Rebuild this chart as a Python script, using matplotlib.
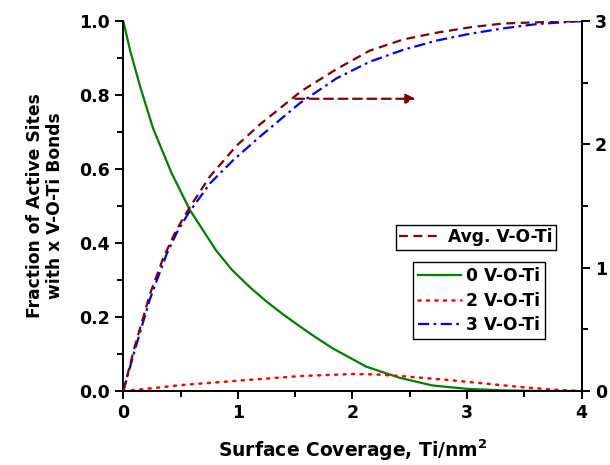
import numpy as np
import matplotlib
matplotlib.use('Agg')
from matplotlib import pyplot as plt
from matplotlib.lines import Line2D

plt.rcParams['font.family'] = ['DejaVu Sans']
plt.rcParams['font.weight'] = 'bold'

# values
x_zero = [0, 0.06, 0.15, 0.26, 0.42, 0.58, 0.81, 0.95, 1.10, 1.25, 1.40,
          1.54, 1.67, 1.83, 2.12, 2.41, 2.70, 3.00, 3.30, 3.60, 4.0]
y_zero = [1.0, 0.92, 0.82, 0.71, 0.59, 0.49, 0.38, 0.327, 0.282, 0.242,
          0.206, 0.175, 0.147, 0.115, 0.066, 0.036, 0.015, 0.006, 0.002,
          0.0005, 0.0]

x_two = [0, 0.234, 0.5, 0.81, 1.0, 1.54, 2.0, 2.2, 2.4, 2.6, 2.8, 3.0, 3.3,
         3.5, 3.8, 4.0]
y_two = [0, 0.007, 0.016, 0.0235, 0.028, 0.0405, 0.046, 0.045, 0.041, 0.036,
         0.031, 0.025, 0.016, 0.010, 0.003, 0.0]

x_three = [0, 0.1, 0.234, 0.378, 0.47, 0.567, 0.756, 0.959, 1.19, 1.54, 1.86,
           2.15, 2.44, 2.73, 3.03, 3.31, 3.61, 4.0]
y_three = [0, 0.11, 0.25, 0.37, 0.43, 0.48, 0.561, 0.624, 0.687, 0.778,
           0.845, 0.89, 0.922, 0.947, 0.966, 0.98, 0.992, 1.0]

x_avg = [0, 0.1, 0.234, 0.349, 0.46, 0.58, 0.756, 0.989, 1.19, 1.55, 1.86,
         2.15, 2.44, 2.73, 3.03, 3.31, 3.61, 4.0]
y_avg = [0, 0.36, 0.79, 1.08, 1.30, 1.49, 1.74, 1.99, 2.16, 2.43, 2.61,
         2.76, 2.85, 2.905, 2.95, 2.98, 2.99, 3.0]

green = '#008000'
red = '#ff0000'
blue = '#0000ff'
maroon = '#800000'

fig = plt.figure(figsize=(6.1, 4.65), dpi=100)
ax = fig.add_axes([0.2021, 0.159, 0.7515, 0.7957])
ax2 = ax.twinx()

ax.plot(x_zero, y_zero, color=green, lw=1.6, ls='-')
ax.plot(x_two, y_two, color=red, lw=1.8, ls=(0, (0.8, 2.6)),
        dash_capstyle='round')
ax.plot(x_three, y_three, color=blue, lw=1.6, ls=(0, (5, 2, 1.2, 2)))
ax2.plot(x_avg, y_avg, color=maroon, lw=1.6, ls=(0, (4, 2.5)))

ax2.annotate('', xy=(2.55, 2.37), xytext=(1.5, 2.37),
             arrowprops=dict(arrowstyle='-|>', color=maroon, lw=1.6,
                             ls=(0, (4, 2.5)), mutation_scale=14,
                             shrinkA=0, shrinkB=0))

ax.set_xlim(0, 4)
ax.set_ylim(0, 1.0)
ax2.set_ylim(0, 3)
ax.set_xticks([0, 1, 2, 3, 4])
ax.set_xticks(np.arange(0.5, 4, 1), minor=True)
ax.set_yticks([0, 0.2, 0.4, 0.6, 0.8, 1.0])
ax.set_yticklabels(['0.0', '0.2', '0.4', '0.6', '0.8', '1.0'])
ax.set_yticks(np.arange(0.1, 1.0, 0.2), minor=True)
ax2.set_yticks([0, 1, 2, 3])
ax2.set_yticks([0.5, 1.5, 2.5], minor=True)

for a in (ax, ax2):
    a.spines['top'].set_visible(False)
    for s in a.spines.values():
        s.set_linewidth(1.4)
    a.tick_params(which='major', direction='out', length=6, width=1.4,
                  labelsize=12.5)
    a.tick_params(which='minor', direction='out', length=4, width=1.4)
ax2.spines['left'].set_visible(False)
ax2.spines['bottom'].set_visible(False)

ax.set_xlabel('Surface Coverage, Ti/nm$^\\mathbf{2}$', fontsize=13.5,
              fontweight='bold', labelpad=11)
ax.set_ylabel('Fraction of Active Sites\nwith x V-O-Ti Bonds', fontsize=12.3,
              fontweight='bold', labelpad=11, linespacing=1.15)

leg_font = {'size': 12.3, 'weight': 'bold'}
h_avg = [Line2D([], [], color=maroon, lw=1.6, ls=(0, (4, 2.5)))]
leg1 = ax2.legend(h_avg, ['Avg. V-O-Ti'], loc='upper right',
                  bbox_to_anchor=(0.944, 0.449), prop=leg_font,
                  fancybox=False, edgecolor='k', framealpha=1,
                  handlelength=2.5, handletextpad=0.35, borderpad=0.2,
                  borderaxespad=0)
leg1.get_frame().set_linewidth(1.0)
h_sites = [Line2D([], [], color=green, lw=1.6),
           Line2D([], [], color=red, lw=1.8, ls=(0, (0.8, 2.6)),
                  dash_capstyle='round'),
           Line2D([], [], color=blue, lw=1.6, ls=(0, (5, 2, 1.2, 2)))]
ax2.add_artist(leg1)
leg2 = ax2.legend(h_sites, ['0 V-O-Ti', '2 V-O-Ti', '3 V-O-Ti'],
                  loc='upper right', bbox_to_anchor=(0.92, 0.349),
                  prop=leg_font, fancybox=False, edgecolor='k', framealpha=1,
                  handlelength=2.5, handletextpad=0.3, borderpad=0.3,
                  labelspacing=0.38, borderaxespad=0)
leg2.get_frame().set_linewidth(1.0)

fig.savefig('out.png', dpi=100)
